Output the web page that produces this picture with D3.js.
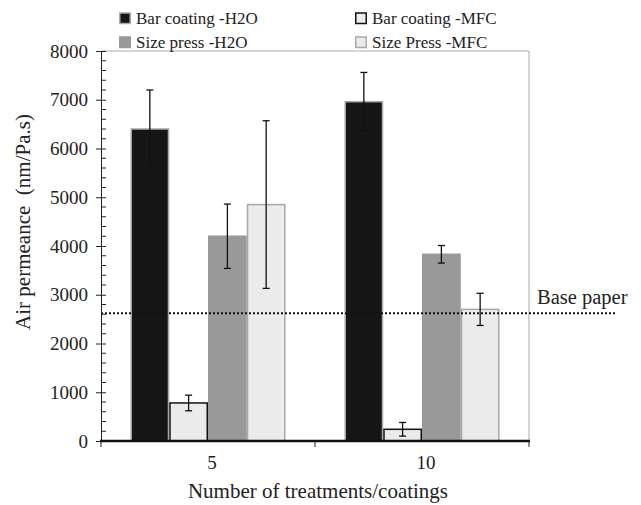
<!DOCTYPE html>
<html>
<head>
<meta charset="utf-8">
<script src="https://cdn.jsdelivr.net/npm/d3@7"></script>
<style>
  body { margin: 0; background: #fff; }
  svg text { font-family: "Liberation Serif", "Times New Roman", serif; fill: #222; }
</style>
</head>
<body>
<div class="chart"></div>
<script>
//Chart data.
var categories = ["5", "10"];
var seriesNames = ["Bar coating -H2O", "Bar coating -MFC", "Size press -H2O", "Size Press -MFC"];
var barH2O = [6400, 6960];
var barMFC = [780, 240];
var sizeH2O = [4200, 3830];
var sizeMFC = [4850, 2700];
var errBarH2O = [800, 600];
var errBarMFC = [160, 140];
var errSizeH2O = [660, 180];
var errSizeMFC = [1720, 330];
var basePaper = 2620;
var yTicks = [0, 1000, 2000, 3000, 4000, 5000, 6000, 7000, 8000];

var seriesValues = [barH2O, barMFC, sizeH2O, sizeMFC];
var seriesErrors = [errBarH2O, errBarMFC, errSizeH2O, errSizeMFC];
var fills = ["#161616", "#ebebeb", "#999999", "#ebebeb"];
var strokes = ["#a8a8a8", "#111111", "#999999", "#a8a8a8"];

//Define the SVG area dimensions.
var svgWidth = 641;
var svgHeight = 505;
var margin = { top: 51, right: 112, bottom: 64, left: 101 };
var chartWidth = svgWidth - margin.left - margin.right;
var chartHeight = svgHeight - margin.top - margin.bottom;

var svg = d3.select(".chart")
  .append("svg")
  .attr("width", svgWidth)
  .attr("height", svgHeight);

var chart = svg.append("g")
  .attr("transform", "translate(" + margin.left + "," + margin.top + ")");

//Build rows for the bars.
var rows = [];
categories.forEach(function(c, i) {
  seriesNames.forEach(function(s, j) {
    rows.push({ cat: c, series: s, idx: j, value: seriesValues[j][i], err: seriesErrors[j][i] });
  });
});

//Scales.
var x0 = d3.scaleBand().domain(categories).range([0, chartWidth]);
var x1 = d3.scaleBand().domain(seriesNames).range([0, x0.bandwidth()]).paddingOuter(0.76);
var y = d3.scaleLinear().domain([0, 8000]).range([chartHeight, 0]);

//Grey frame on top and right.
chart.append("line")
  .attr("x1", 0).attr("x2", chartWidth).attr("y1", 0).attr("y2", 0)
  .attr("stroke", "#aaa").attr("stroke-width", 1);
chart.append("line")
  .attr("x1", chartWidth).attr("x2", chartWidth).attr("y1", 0).attr("y2", chartHeight)
  .attr("stroke", "#aaa").attr("stroke-width", 1);

//Bars.
var groups = chart.selectAll(".grp")
  .data(rows)
  .enter()
  .append("g")
  .attr("transform", function(d) { return "translate(" + x0(d.cat) + ",0)"; });

groups.append("rect")
  .attr("x", function(d) { return x1(d.series) + 0.75; })
  .attr("y", function(d) { return y(d.value); })
  .attr("width", x1.bandwidth() - 1.5)
  .attr("height", function(d) { return chartHeight - y(d.value); })
  .attr("fill", function(d) { return fills[d.idx]; })
  .attr("stroke", function(d) { return strokes[d.idx]; })
  .attr("stroke-width", 1.5);

//Base paper dotted line.
chart.append("line")
  .attr("x1", 0).attr("x2", chartWidth + 86)
  .attr("y1", y(basePaper)).attr("y2", y(basePaper))
  .attr("stroke", "#111").attr("stroke-width", 2)
  .attr("stroke-dasharray", "2,2");

chart.append("text")
  .attr("x", chartWidth + 8)
  .attr("y", y(basePaper) - 9)
  .attr("font-size", 20.5)
  .text("Base paper");

//Error bars.
var errG = groups.append("g")
  .attr("stroke", "#111")
  .attr("stroke-width", 1.3);
errG.append("line")
  .attr("x1", function(d) { return x1(d.series) + x1.bandwidth() / 2; })
  .attr("x2", function(d) { return x1(d.series) + x1.bandwidth() / 2; })
  .attr("y1", function(d) { return y(d.value + d.err); })
  .attr("y2", function(d) { return y(d.value - d.err); });
[1, -1].forEach(function(sign) {
  errG.append("line")
    .attr("x1", function(d) { return x1(d.series) + x1.bandwidth() / 2 - 3.5; })
    .attr("x2", function(d) { return x1(d.series) + x1.bandwidth() / 2 + 3.5; })
    .attr("y1", function(d) { return y(d.value + sign * d.err); })
    .attr("y2", function(d) { return y(d.value + sign * d.err); });
});

//Y axis with minor ticks inside.
var minorTicks = d3.range(0, 8001, 200).filter(function(v) { return v % 1000 !== 0; });
chart.append("g")
  .selectAll("line")
  .data(minorTicks)
  .enter()
  .append("line")
  .attr("x1", 0).attr("x2", 5)
  .attr("y1", function(d) { return y(d); }).attr("y2", function(d) { return y(d); })
  .attr("stroke", "#222");

var leftAxis = d3.axisLeft(y).tickValues(yTicks).tickSize(5).tickPadding(8).tickFormat(d3.format("d"));
var yAxisG = chart.append("g").call(leftAxis);
yAxisG.select(".domain").attr("stroke", "#222");
yAxisG.selectAll(".tick line").attr("x1", 5).attr("stroke", "#222");
yAxisG.selectAll(".tick text")
  .attr("font-size", 19)
  .attr("font-family", "Liberation Serif, serif")
  .attr("fill", "#222");

//X axis: thick baseline, ticks between categories.
chart.append("line")
  .attr("x1", -1).attr("x2", chartWidth + 1)
  .attr("y1", chartHeight).attr("y2", chartHeight)
  .attr("stroke", "#111").attr("stroke-width", 2.5);
chart.append("g")
  .selectAll("line")
  .data(d3.range(categories.length + 1))
  .enter()
  .append("line")
  .attr("x1", function(d) { return d * x0.step(); })
  .attr("x2", function(d) { return d * x0.step(); })
  .attr("y1", chartHeight).attr("y2", chartHeight + 6)
  .attr("stroke", "#222");
chart.append("g")
  .selectAll("text")
  .data(categories)
  .enter()
  .append("text")
  .attr("x", function(d) { return x0(d) + x0.bandwidth() / 2 + 4; })
  .attr("y", chartHeight + 28)
  .attr("text-anchor", "middle")
  .attr("font-size", 19)
  .text(function(d) { return d; });

//Axis titles.
svg.append("text")
  .attr("x", 318)
  .attr("y", 498)
  .attr("text-anchor", "middle")
  .attr("font-size", 21)
  .text("Number of treatments/coatings");

svg.append("text")
  .attr("transform", "translate(30,222) rotate(-90)")
  .attr("text-anchor", "middle")
  .attr("font-size", 21)
  .attr("xml:space", "preserve")
  .style("white-space", "pre")
  .text("Air permeance  (nm/Pa.s)");

//Legend.
var legendPos = [[119, 24], [355, 24], [119, 48], [355, 48]];
var legend = svg.selectAll(".legend")
  .data(seriesNames)
  .enter()
  .append("g")
  .attr("transform", function(d, i) { return "translate(" + legendPos[i][0] + "," + legendPos[i][1] + ")"; });
legend.append("rect")
  .attr("x", 0.75).attr("y", -11)
  .attr("width", 10.5).attr("height", 10.5)
  .attr("fill", function(d, i) { return fills[i]; })
  .attr("stroke", function(d, i) { return strokes[i]; })
  .attr("stroke-width", 1.5);
legend.append("text")
  .attr("x", 17)
  .attr("y", 0)
  .attr("font-size", 17)
  .text(function(d) { return d; });
</script>
</body>
</html>
